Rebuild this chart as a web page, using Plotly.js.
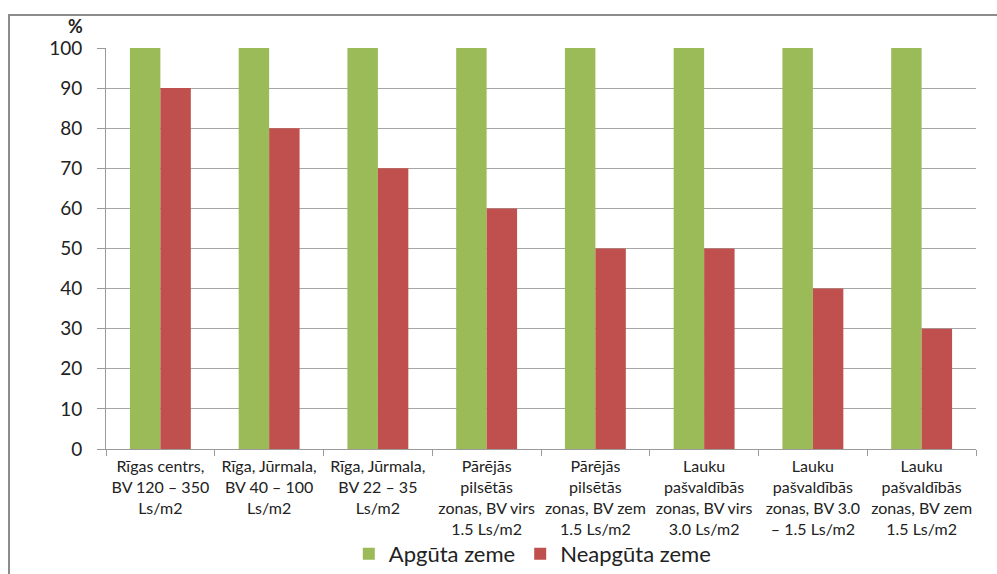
<!DOCTYPE html>
<html>
<head>
<meta charset="utf-8">
<script src="https://cdn.plot.ly/plotly-3.0.1.min.js"></script>
<style>
html,body{margin:0;padding:0;background:#fff;overflow:hidden;}
#frame{position:absolute;left:8px;top:14px;width:1000px;height:560px;border-left:2px solid #8c8c8c;border-top:2px solid #8c8c8c;pointer-events:none;z-index:5;}
#chart{position:absolute;left:0;top:0;width:997px;height:574px;}
</style>
</head>
<body>
<div id="chart"></div>
<div id="frame"></div>
<script>
const categories = [
  "Rīgas centrs,<br>BV 120 – 350<br>Ls/m2",
  "Rīga, Jūrmala,<br>BV 40 – 100<br>Ls/m2",
  "Rīga, Jūrmala,<br>BV 22 – 35<br>Ls/m2",
  "Pārējās<br>pilsētās<br>zonas, BV virs<br>1.5 Ls/m2",
  "Pārējās<br>pilsētās<br>zonas, BV zem<br>1.5 Ls/m2",
  "Lauku<br>pašvaldībās<br>zonas, BV virs<br>3.0 Ls/m2",
  "Lauku<br>pašvaldībās<br>zonas, BV 3.0<br>– 1.5 Ls/m2",
  "Lauku<br>pašvaldībās<br>zonas, BV zem<br>1.5 Ls/m2"
];
const seriesNames = ["Apgūta zeme", "Neapgūta zeme"];
const apguta = [100, 100, 100, 100, 100, 100, 100, 100];
const neapguta = [90, 80, 70, 60, 50, 50, 40, 30];
const yTicks = [0, 10, 20, 30, 40, 50, 60, 70, 80, 90, 100];

const font = "Lato, 'Open Sans', 'Noto Sans', sans-serif";

const data = [
  {type: "bar", name: seriesNames[0], x: categories, y: apguta,
   marker: {color: "#9BBB59", line: {width: 0}}},
  {type: "bar", name: seriesNames[1], x: categories, y: neapguta,
   marker: {color: "#C0504D", line: {width: 0}}}
];

const layout = {
  width: 997, height: 574,
  margin: {l: 106, r: 21, t: 48, b: 125, autoexpand: false},
  paper_bgcolor: "#ffffff", plot_bgcolor: "#ffffff",
  barmode: "group", bargap: 0.44, bargroupgap: 0,
  font: {family: font, color: "#222", size: 14},
  xaxis: {
    type: "category", showgrid: false, zeroline: false,
    showline: true, linecolor: "#9a9a9a", linewidth: 1,
    ticks: "outside", ticklen: 6, tickcolor: "#9a9a9a",
    tickson: "boundaries", ticklabelstandoff: 3, tickangle: 0,
    tickfont: {family: font, size: 16, color: "#222"},
    automargin: false
  },
  yaxis: {
    range: [0, 100], tickvals: yTicks, showgrid: true, gridcolor: "#a6a6a6", gridwidth: 1,
    zeroline: false, showline: true, linecolor: "#9a9a9a", linewidth: 1,
    ticks: "outside", ticklen: 8, tickcolor: "#9a9a9a",
    ticklabelstandoff: 11,
    tickfont: {family: font, size: 19, color: "#222"},
    automargin: false
  },
  showlegend: true,
  legend: {
    orientation: "h", xref: "paper", x: 0.49, xanchor: "center",
    yref: "container", y: 0.035, yanchor: "middle",
    bgcolor: "rgba(0,0,0,0)",
    font: {family: font, size: 22, color: "#222"},
    itemwidth: 30, traceorder: "normal"
  },
  annotations: [
    {text: "<b>%</b>", xref: "paper", yref: "paper", x: 0, y: 1, xanchor: "right", yanchor: "bottom",
     xshift: -21, yshift: 9, showarrow: false, font: {family: font, size: 18, color: "#222"}}
  ]
};

Plotly.newPlot("chart", data, layout, {displayModeBar: false, staticPlot: true});
</script>
</body>
</html>
